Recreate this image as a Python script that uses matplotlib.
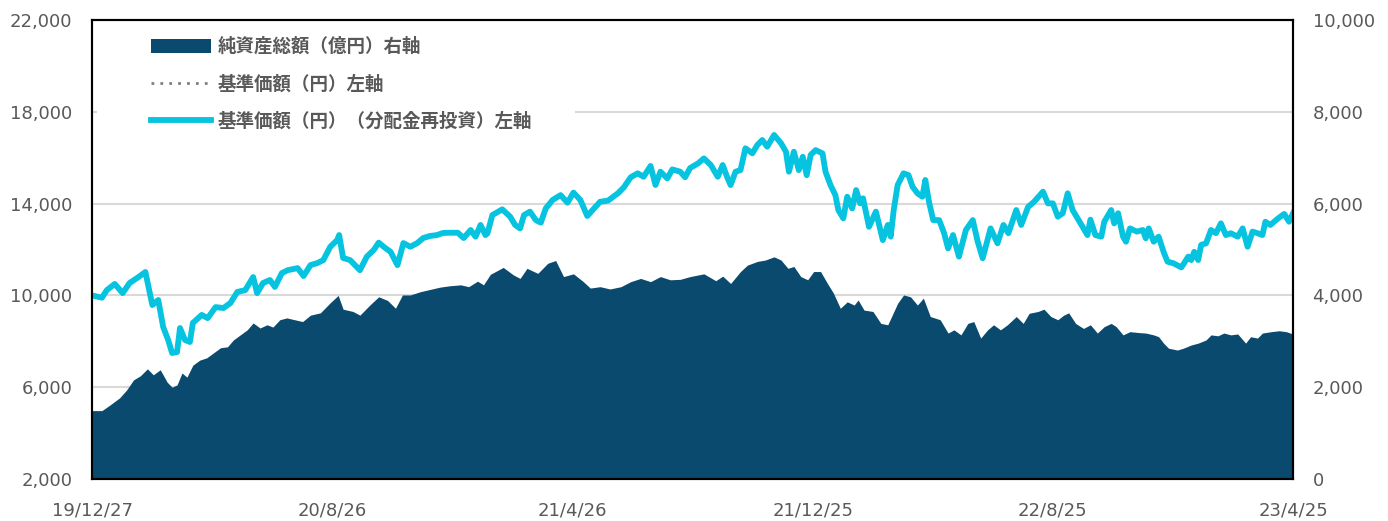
import numpy as np
import matplotlib
matplotlib.use("Agg")
import matplotlib.pyplot as plt
from matplotlib.patches import Rectangle
from matplotlib.ticker import FuncFormatter

# ---- data ----
start_date = "2019-12-27"

# 基準価額（分配金再投資）: days after start_date, value in yen
nav_days = [0, 10, 15, 23, 31, 38, 47, 54, 61, 67, 72, 77, 81, 86, 89, 94, 99, 102,
            111, 117, 125, 133, 140, 147, 155, 163, 167, 173, 180, 185, 192, 198,
            208, 214, 221, 228, 234, 241, 248, 250, 254, 261, 266, 271, 278, 285,
            290, 295, 302, 309, 315, 322, 329, 335, 342, 349, 355, 362, 370, 376,
            383, 388, 393, 398, 400, 405, 415, 423, 428, 433, 437, 443, 449, 454,
            459, 466, 474, 481, 487, 494, 501, 507, 514, 522, 532, 538, 545, 552,
            558, 565, 570, 575, 582, 587, 595, 600, 605, 613, 619, 626, 633, 638,
            643, 646, 651, 656, 661, 668, 673, 678, 683, 690, 697, 702, 705, 710,
            715, 719, 723, 727, 732, 739, 742, 747, 752, 755, 760, 764, 769, 773,
            777, 780, 786, 793, 800, 805, 808, 811, 815, 821, 826, 830, 835, 840,
            843, 847, 851, 857, 862, 866, 871, 877, 884, 891, 896, 901, 909, 916,
            922, 927, 935, 940, 947, 953, 962, 967, 972, 977, 982, 987, 992, 999,
            1007, 1010, 1015, 1021, 1024, 1031, 1034, 1038, 1043, 1046, 1050, 1057,
            1063, 1066, 1069, 1074, 1079, 1084, 1088, 1094, 1102, 1109, 1112, 1115,
            1119, 1122, 1127, 1132, 1137, 1142, 1147, 1152, 1159, 1164, 1169, 1174,
            1179, 1184, 1187, 1192, 1200, 1206, 1211, 1215]
nav_reinvest = [10000, 9900, 10230, 10500, 10100, 10540, 10800, 11020, 9580, 9800,
                8620, 8060, 7490, 7530, 8580, 8060, 7970, 8800, 9150, 9010, 9490,
                9450, 9670, 10150, 10230, 10800, 10100, 10540, 10670, 10370, 10970,
                11100, 11190, 10845, 11320, 11410, 11540, 12120, 12410, 12630, 11630,
                11540, 11320, 11100, 11690, 11980, 12300, 12120, 11900, 11320, 12280,
                12120, 12280, 12500, 12590, 12630, 12720, 12730, 12730, 12500, 12850,
                12560, 13070, 12630, 12700, 13500, 13750, 13430, 13070, 12920, 13500,
                13650, 13280, 13170, 13790, 14160, 14370, 14040, 14480, 14160, 13460,
                13750, 14080, 14130, 14450, 14710, 15150, 15320, 15170, 15640, 14810,
                15390, 15100, 15490, 15390, 15150, 15550, 15750, 15970, 15680, 15170,
                15680, 15100, 14810, 15390, 15460, 16410, 16190, 16550, 16770, 16480,
                16990, 16630, 16260, 15390, 16260, 15460, 16040, 15240, 16120, 16330,
                16190, 15390, 14810, 14370, 13720, 13360, 14300, 13790, 14590, 14010,
                14230, 12990, 13650, 12410, 13070, 12560, 13720, 14810, 15320, 15240,
                14740, 14450, 14300, 15030, 14010, 13280, 13280, 12710, 12050, 12630,
                11690, 12850, 13280, 12340, 11620, 12920, 12270, 13070, 12710, 13720,
                13070, 13860, 14080, 14520, 14010, 14010, 13430, 13580, 14450, 13720,
                13210, 12630, 13300, 12630, 12560, 13210, 13720, 13140, 13580, 12560,
                12340, 12920, 12780, 12850, 12490, 12920, 12340, 12560, 11900, 11470,
                11400, 11220, 11690, 11540, 11900, 11540, 12200, 12270, 12850, 12710,
                13140, 12630, 12710, 12560, 12920, 12120, 12780, 12710, 12630, 13210,
                13070, 13360, 13550, 13210, 13580]
# no distributions were paid, so 基準価額 equals the reinvested series
nav_plain = list(nav_reinvest)

# 純資産総額（億円）
aum_days = [0, 10, 18, 28, 35, 42, 49, 56, 62, 69, 76, 81, 86, 91, 96, 102, 109,
            116, 123, 130, 137, 143, 150, 157, 163, 170, 177, 183, 190, 197, 213,
            221, 231, 241, 249, 254, 264, 271, 281, 290, 299, 307, 314, 322, 332,
            342, 352, 362, 373, 381, 390, 396, 403, 416, 426, 433, 440, 451, 461,
            469, 477, 487, 497, 504, 514, 524, 535, 545, 555, 565, 575, 585, 595,
            605, 619, 631, 638, 646, 656, 663, 673, 681, 690, 697, 704, 710, 717,
            724, 730, 737, 744, 750, 757, 764, 771, 775, 781, 790, 798, 805, 808,
            815, 821, 828, 835, 841, 848, 858, 866, 872, 879, 886, 892, 899, 906,
            912, 919, 926, 935, 942, 948, 957, 963, 970, 977, 983, 988, 995, 1003,
            1010, 1017, 1024, 1031, 1036, 1043, 1050, 1059, 1066, 1074, 1079, 1084,
            1089, 1098, 1104, 1112, 1119, 1127, 1132, 1139, 1145, 1152, 1159, 1167,
            1172, 1179, 1184, 1193, 1201, 1208, 1215]
aum = [1490, 1490, 1610, 1770, 1940, 2160, 2250, 2400, 2270, 2380, 2110, 2000, 2050,
       2310, 2220, 2480, 2590, 2640, 2750, 2860, 2880, 3030, 3140, 3250, 3400, 3290,
       3360, 3310, 3470, 3510, 3430, 3570, 3620, 3840, 4000, 3700, 3650, 3570, 3790,
       3970, 3890, 3720, 4010, 4010, 4080, 4130, 4180, 4210, 4230, 4190, 4310, 4230,
       4460, 4610, 4450, 4370, 4590, 4480, 4700, 4760, 4410, 4470, 4300, 4160, 4190,
       4140, 4190, 4300, 4370, 4300, 4410, 4340, 4350, 4410, 4470, 4320, 4420, 4260,
       4520, 4660, 4740, 4770, 4840, 4770, 4590, 4630, 4410, 4340, 4520, 4520, 4260,
       4050, 3720, 3860, 3790, 3900, 3680, 3650, 3390, 3360, 3500, 3830, 4010, 3970,
       3790, 3940, 3540, 3470, 3180, 3250, 3140, 3390, 3430, 3070, 3250, 3360, 3250,
       3360, 3540, 3390, 3610, 3650, 3700, 3540, 3470, 3570, 3620, 3390, 3280, 3360,
       3180, 3320, 3390, 3320, 3140, 3210, 3190, 3180, 3140, 3100, 2960, 2850, 2810,
       2850, 2920, 2960, 3030, 3140, 3120, 3180, 3140, 3160, 2960, 3100, 3070, 3180,
       3210, 3230, 3210, 3160]

tick_days = [0, 243, 486, 729, 972, 1215]
tick_labels = ["19/12/27", "20/8/26", "21/4/26", "21/12/25", "22/8/25", "23/4/25"]

labels = ["純資産総額（億円）右軸", "基準価額（円）左軸", "基準価額（円）（分配金再投資）左軸"]

# ---- plot ----
t0 = np.datetime64(start_date)
nav_dates = t0 + np.array(nav_days).astype("timedelta64[D]")
aum_dates = t0 + np.array(aum_days).astype("timedelta64[D]")
tick_dates = t0 + np.array(tick_days).astype("timedelta64[D]")

navy = "#0a4a6e"
cyan = "#06c3e0"
txt = "#595959"

fig = plt.figure(figsize=(13.88, 5.21), dpi=100)
ax = fig.add_axes([0.0663, 0.0806, 0.8653, 0.881])
ax2 = ax.twinx()

# area on right axis, drawn below the lines
ax2.fill_between(aum_dates, 0, aum, color=navy, lw=0, zorder=2, label=labels[0])
ax2.set_ylim(0, 10000)
ax2.set_yticks(np.arange(0, 10001, 2000))
ax2.grid(axis="y", color="#d9d9d9", lw=1.5, zorder=0)
ax2.set_axisbelow(True)
ax2.add_patch(Rectangle((0.004, 0.749), 0.398, 0.24, transform=ax2.transAxes,
                        facecolor="white", edgecolor="none", zorder=1))

ax.set_zorder(ax2.get_zorder() + 1)
ax.patch.set_visible(False)
l1, = ax.plot(nav_dates, nav_plain, color="#7f7f7f", lw=2, ls=(0, (1, 2.2)), label=labels[1])
l2, = ax.plot(nav_dates, nav_reinvest, color=cyan, lw=4.2, solid_joinstyle="round", label=labels[2])
ax.set_ylim(2000, 22000)
ax.set_yticks(np.arange(2000, 22001, 4000))
ax.set_xlim(nav_dates[0], nav_dates[-1])
ax.set_xticks(tick_dates)
ax.set_xticklabels(tick_labels)

fmt = FuncFormatter(lambda v, p: f"{int(v):,}")
ax.yaxis.set_major_formatter(fmt)
ax2.yaxis.set_major_formatter(fmt)

for a in (ax, ax2):
    a.tick_params(length=0, labelsize=13, labelcolor=txt, pad=14)
    for s in a.spines.values():
        s.set_color("black")
        s.set_linewidth(1.5)
ax.tick_params(axis="x", pad=16)

# legend
area_handle = plt.Rectangle((0, 0), 1, 1, facecolor=navy, edgecolor="none")
leg = ax.legend([area_handle, l1, l2], labels, loc="upper left",
                bbox_to_anchor=(0.035, 0.999), frameon=False,
                prop={"family": ["Noto Sans CJK JP", "DejaVu Sans"], "weight": "bold", "size": 13.3},
                handlelength=3.25, handleheight=0.8, handletextpad=0.35, labelspacing=1.0)
for t in leg.get_texts():
    t.set_color(txt)

fig.savefig("out.png", dpi=100)
